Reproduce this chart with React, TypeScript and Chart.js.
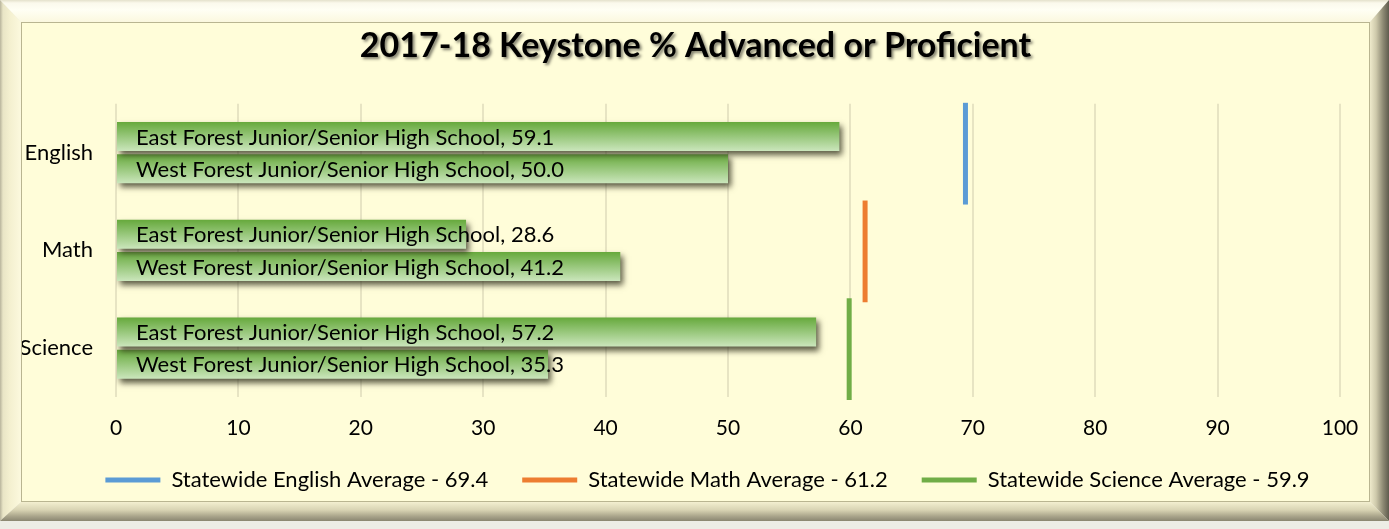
import React, { useEffect, useRef } from "react";
import { Chart, registerables } from "chart.js";

Chart.register(...registerables);

const chartTitle = "2017-18 Keystone % Advanced or Proficient";
const categories = ["English", "Math", "Science"];
const schoolNames = [
  "East Forest Junior/Senior High School",
  "West Forest Junior/Senior High School",
];
const eastValues = [59.1, 28.6, 57.2];
const westValues = [50.0, 41.2, 35.3];
const statewideLabels = [
  "Statewide English Average",
  "Statewide Math Average",
  "Statewide Science Average",
];
const statewideValues = [69.4, 61.2, 59.9];
const statewideColors = ["#5B9BD5", "#ED7D31", "#70AD47"];
const xMin = 0;
const xMax = 100;
const xStep = 10;

const FONT = "Lato, 'Open Sans', sans-serif";

const barStylePlugin = {
  id: "barStyle",
  beforeDatasetDraw(chart: any, args: any) {
    const ctx = chart.ctx;
    args.meta.data.forEach((el: any) => {
      const { y, height } = el.getProps(["y", "height"], true);
      const g = ctx.createLinearGradient(0, y - height / 2, 0, y + height / 2);
      g.addColorStop(0, "#66A93C");
      g.addColorStop(1, "#CBE6BC");
      el.options.backgroundColor = g;
    });
    ctx.save();
    ctx.shadowColor = "rgba(50,50,30,0.8)";
    ctx.shadowBlur = 6;
    ctx.shadowOffsetX = 3;
    ctx.shadowOffsetY = 4;
  },
  afterDatasetDraw(chart: any) {
    chart.ctx.restore();
  },
};

const statewideLinePlugin = {
  id: "statewideLines",
  afterDatasetsDraw(chart: any) {
    const ctx = chart.ctx;
    const xs = chart.scales.x;
    const ys = chart.scales.y;
    const band = ys.getPixelForValue(1) - ys.getPixelForValue(0);
    ctx.save();
    ctx.lineWidth = 5;
    ctx.lineCap = "butt";
    statewideValues.forEach((v, i) => {
      const x = xs.getPixelForValue(v);
      const yc = ys.getPixelForValue(i);
      ctx.strokeStyle = statewideColors[i];
      ctx.beginPath();
      ctx.moveTo(x, yc - band / 2 - 1);
      ctx.lineTo(x, yc + band / 2 + 3);
      ctx.stroke();
    });
    ctx.restore();
  },
};

const barLabelPlugin = {
  id: "barLabels",
  afterDatasetsDraw(chart: any) {
    const ctx = chart.ctx;
    ctx.save();
    ctx.font = `22px ${FONT}`;
    ctx.fillStyle = "#000";
    ctx.textAlign = "left";
    ctx.textBaseline = "middle";
    chart.data.datasets.forEach((ds: any, di: number) => {
      const meta = chart.getDatasetMeta(di);
      meta.data.forEach((el: any, i: number) => {
        const v = ds.data[i] as number;
        ctx.fillText(`${ds.label}, ${v.toFixed(1)}`, el.base + 19, el.y + 1);
      });
    });
    ctx.restore();
  },
};

const titleShadowPlugin = {
  id: "titleShadow",
  afterLayout(chart: any) {
    if (chart.legend) {
      chart.legend.left += 24;
    }
  },
  beforeDraw(chart: any) {
    const tb = chart.titleBlock;
    if (!tb) return;
    const opts = chart.options.plugins.title;
    const size = opts.font.size;
    const lineHeight = size * 1.2;
    const x = (tb.left + tb.right) / 2;
    const y = tb.top + opts.padding.top + lineHeight / 2;
    const ctx = chart.ctx;
    ctx.save();
    ctx.font = `bold ${size}px ${FONT}`;
    ctx.textAlign = "center";
    ctx.textBaseline = "middle";
    ctx.fillStyle = "#000";
    ctx.shadowColor = "rgba(0,0,0,0.5)";
    ctx.shadowBlur = 3;
    const off = 5000;
    ctx.shadowOffsetX = off + 2;
    ctx.shadowOffsetY = 2;
    ctx.fillText(opts.text, x - off, y);
    ctx.restore();
  },
};

const W = 1389;
const H = 521;
const BL = 21;
const BT = 22;
const BR = 19;
const BB = 19;

function Bevel() {
  const base: React.CSSProperties = { position: "absolute", left: 0, top: 0, width: W, height: H };
  return (
    <>
      <div
        style={{
          ...base,
          clipPath: `polygon(0 0, ${W}px 0, ${W - BR}px ${BT}px, ${BL}px ${BT}px)`,
          background: "linear-gradient(to bottom, #E4E1CB 0px, #FBF9EC 3px, #FFFFF4 10px, #FBF8DF 22px)",
        }}
      />
      <div
        style={{
          ...base,
          clipPath: `polygon(0 0, ${BL}px ${BT}px, ${BL}px ${H - BB}px, 0 ${H}px)`,
          background: "linear-gradient(to right, #B8B49C 0px, #E9E5C6 3px, #F4F0D0 10px, #FCF9DE 21px)",
        }}
      />
      <div
        style={{
          ...base,
          clipPath: `polygon(${W}px 0, ${W}px ${H}px, ${W - BR}px ${H - BB}px, ${W - BR}px ${BT}px)`,
          background: `linear-gradient(to right, transparent ${W - BR}px, #EEEACB ${W - BR}px, #CFCAAC ${W - 13}px, #8E8A74 ${W - 6}px, #5F5C4E ${W}px)`,
        }}
      />
      <div
        style={{
          ...base,
          clipPath: `polygon(0 ${H}px, ${W}px ${H}px, ${W - BR}px ${H - BB}px, ${BL}px ${H - BB}px)`,
          background: `linear-gradient(to bottom, transparent ${H - BB}px, #F3EFD0 ${H - BB}px, #D8D3B3 ${H - 11}px, #ABA68C ${H - 5}px, #8A8671 ${H}px)`,
        }}
      />
    </>
  );
}

function App() {
  const ref = useRef<HTMLCanvasElement | null>(null);

  useEffect(() => {
    if (!ref.current) return;
    const barDatasets = [eastValues, westValues].map((vals, i) => ({
      label: schoolNames[i],
      data: vals,
      backgroundColor: () => "#70AD47",
      borderWidth: 0,
      xAxisID: "x",
      yAxisID: "y",
      categoryPercentage: 0.66,
      barPercentage: 0.9,
    }));

    const chart = new Chart(ref.current, {
      type: "bar",
      data: {
        labels: categories,
        datasets: barDatasets as any,
      },
      options: {
        indexAxis: "y",
        responsive: false,
        animation: false,
        events: [],
        layout: { padding: { left: 22, right: 0, top: 0, bottom: 0 } },
        plugins: {
          title: {
            display: true,
            text: chartTitle,
            color: "#000",
            font: { family: FONT, size: 34, weight: "bold" },
            padding: { top: 3, bottom: 37 },
          },
          legend: {
            position: "bottom",
            labels: {
              boxWidth: 55,
              boxHeight: 5,
              color: "#000",
              padding: 34,
              font: { family: FONT, size: 22 },
              generateLabels: () =>
                statewideValues.map((v, i) => ({
                  text: `${statewideLabels[i]} - ${v.toFixed(1)}`,
                  fillStyle: statewideColors[i],
                  strokeStyle: statewideColors[i],
                  lineWidth: 0,
                  hidden: false,
                  fontColor: "#000",
                })),
            },
          },
          tooltip: { enabled: false },
        },
        scales: {
          x: {
            type: "linear",
            min: xMin,
            max: xMax,
            ticks: {
              stepSize: xStep,
              color: "#000",
              padding: 0,
              font: { family: FONT, size: 21 },
            },
            grid: {
              color: "#E7E4C3",
              lineWidth: 2,
              drawTicks: true,
              tickLength: 19,
              tickColor: "rgba(0,0,0,0)",
            },
            border: { display: false },
            afterFit: (s: any) => {
              s.height = 38;
            },
          },
          y: {
            type: "category",
            ticks: { color: "#000", padding: 23, font: { family: FONT, size: 22 } },
            grid: { display: false, drawTicks: false },
            border: { display: false },
            afterFit: (s: any) => {
              s.width = 94;
            },
          },
          yRight: {
            type: "linear",
            position: "right",
            display: true,
            ticks: { display: false },
            grid: { display: false, drawTicks: false },
            border: { display: false },
            afterFit: (s: any) => {
              s.width = 29;
            },
          },
        },
      } as any,
      plugins: [titleShadowPlugin, barStylePlugin, statewideLinePlugin, barLabelPlugin],
    });
    return () => chart.destroy();
  }, []);

  return (
    <div
      style={{
        position: "fixed",
        left: 0,
        top: 0,
        width: 1389,
        height: 529,
        background: "#EDEDE6",
      }}
    >
      <Bevel />
      <div
        style={{
          position: "absolute",
          left: BL,
          top: BT,
          width: 1347,
          height: 478,
          border: "1px solid #B9B591",
          background: "#FFFDD9",
        }}
      />
      <canvas
        ref={ref}
        width={1369}
        height={478}
        style={{ display: "block", position: "absolute", left: 0, top: 23 }}
      />
    </div>
  );
}

export default App;
